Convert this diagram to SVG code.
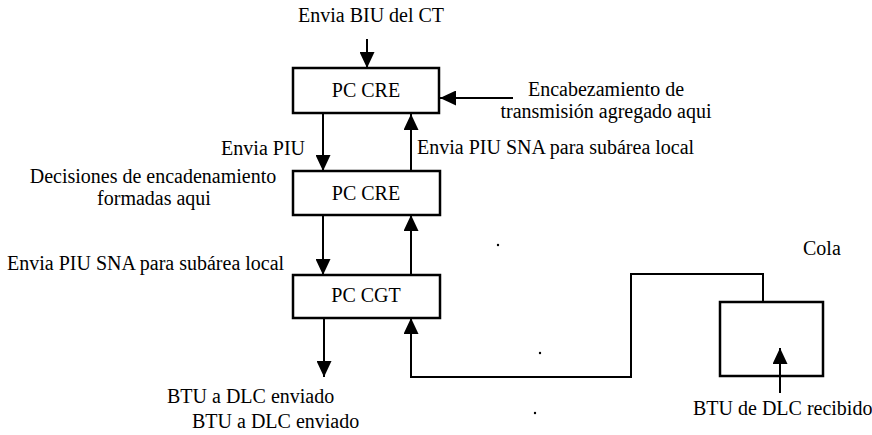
<svg xmlns="http://www.w3.org/2000/svg" width="872" height="435" viewBox="0 0 872 435">
<style>
  .bg { fill: #ffffff; }
  .box { fill: #ffffff; stroke: #000000; stroke-width: 2.5; }
  .qbox { fill: none; stroke: #000000; stroke-width: 2.5; }
  text { font-family: "Liberation Serif", "DejaVu Serif", serif; font-size: 20px; fill: #000000; }
  .mid { text-anchor: middle; }
  .end { text-anchor: end; }
  .conn { fill: none; stroke: #000000; stroke-width: 2; }
  .speck { fill: #000000; }
</style>
<defs>
  <marker id="ah" viewBox="0 0 16 15" refX="16" refY="7.5" markerWidth="16" markerHeight="15" markerUnits="userSpaceOnUse" orient="auto">
    <path d="M0,0 L16,7.5 L0,15 z" fill="#000000"/>
  </marker>
</defs>
<rect class="bg" x="0" y="0" width="872" height="435"/>

<g id="pc-cre-1">
  <rect class="box" x="293" y="68" width="146" height="45"/>
  <text class="mid" x="366" y="97" font-family="Liberation Serif, serif">PC CRE</text>
</g>
<g id="pc-cre-2">
  <rect class="box" x="293" y="171" width="147" height="44"/>
  <text class="mid" x="366" y="200" font-family="Liberation Serif, serif">PC CRE</text>
</g>
<g id="pc-cgt">
  <rect class="box" x="293" y="275" width="147" height="43"/>
  <text class="mid" x="366" y="302" font-family="Liberation Serif, serif">PC CGT</text>
</g>
<g id="cola">
  <rect class="qbox" x="720" y="302" width="103" height="74"/>
  <text x="803" y="255" font-family="Liberation Serif, serif">Cola</text>
</g>

<g id="connectors">
  <path class="conn" d="M367,39 V68" marker-end="url(#ah)"/>
  <path class="conn" d="M513,98 H440" marker-end="url(#ah)"/>
  <path class="conn" d="M323,114 V171" marker-end="url(#ah)"/>
  <path class="conn" d="M411,171 V114" marker-end="url(#ah)"/>
  <path class="conn" d="M323,215 V275" marker-end="url(#ah)"/>
  <path class="conn" d="M411,275 V215" marker-end="url(#ah)"/>
  <path class="conn" d="M324,318 V377" marker-end="url(#ah)"/>
  <path class="conn" d="M763,302 V274 H631 V377 H411 V318" marker-end="url(#ah)"/>
  <path class="conn" d="M780,393 V348" marker-end="url(#ah)"/>
</g>

<g id="labels" font-family="Liberation Serif, serif">
  <text x="298" y="22">Envia BIU del CT</text>
  <text class="mid" x="606" y="96">Encabezamiento de</text>
  <text class="mid" x="606" y="118">transmisión agregado aqui</text>
  <text class="end" x="305" y="155">Envia PIU</text>
  <text x="417" y="154">Envia PIU SNA para subárea local</text>
  <text class="mid" x="153" y="183">Decisiones de encadenamiento</text>
  <text class="mid" x="154" y="205">formadas aqui</text>
  <text x="7" y="270">Envia PIU SNA para subárea local</text>
  <text x="167" y="403">BTU a DLC enviado</text>
  <text x="192" y="428">BTU a DLC enviado</text>
  <text x="693" y="415">BTU de DLC recibido</text>
</g>

<g id="specks">
  <circle class="speck" cx="652" cy="88" r="1.2"/>
  <circle class="speck" cx="498" cy="245" r="1.2"/>
  <circle class="speck" cx="540" cy="353" r="1.2"/>
  <circle class="speck" cx="535" cy="413" r="1.2"/>
</g>
</svg>
